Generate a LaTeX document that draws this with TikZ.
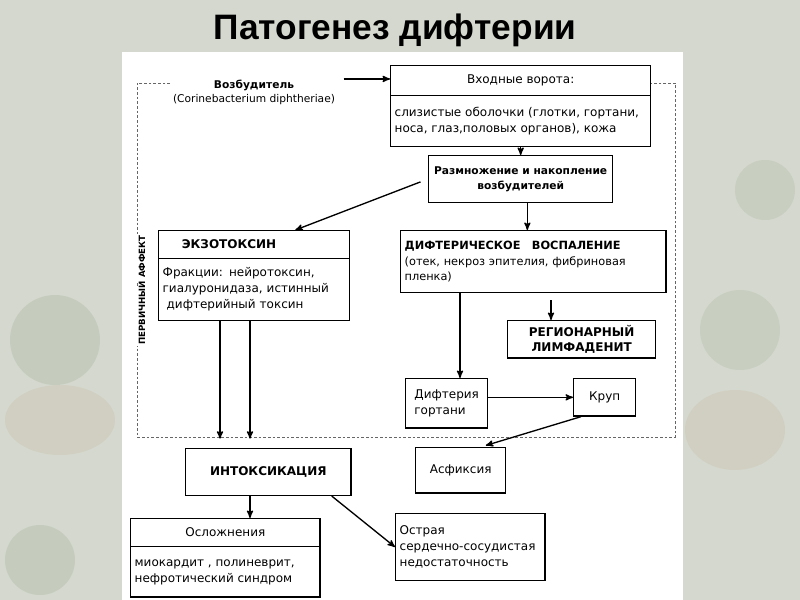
\documentclass[tikz,border=0pt]{standalone}
\usepackage{fontspec}
\setmainfont{DejaVu Sans}
\newfontfamily\titlefont{Liberation Sans}
\usetikzlibrary{arrows,shapes.multipart}

\definecolor{bgpale}{RGB}{212,216,206}
\definecolor{blobgreen}{RGB}{95,125,70}
\definecolor{blobtan}{RGB}{190,150,100}

\begin{document}
\begin{tikzpicture}[x=0.75pt, y=-0.75pt, >=stealth',
	font=\fontsize{9}{12}\selectfont,
	box/.style={draw, line width=1pt, rectangle, anchor=north west, inner sep=3pt},
	splitbox/.style={draw, line width=1pt, rectangle split, rectangle split parts=2,
		rectangle split part align={center, left},
		anchor=north west, inner xsep=3pt, inner ysep=6.5pt},
	frame/.style={gray!80!black, dash pattern=on 2pt off 1.5pt, line width=0.7pt},
	arr/.style={->, line width=1pt}]

	% Background and sheet
	\fill [bgpale] (0,0) rectangle (800,600);
	\fill [blobgreen, opacity=0.12] (55,340) circle (45);
	\fill [blobtan, opacity=0.12] (60,420) ellipse (55 and 35);
	\fill [blobgreen, opacity=0.1] (740,330) circle (40);
	\fill [blobgreen, opacity=0.1] (765,190) circle (30);
	\fill [blobtan, opacity=0.12] (735,430) ellipse (50 and 40);
	\fill [blobgreen, opacity=0.12] (40,560) circle (35);
	\fill [white] (122,52) rectangle (683,600);

	% Title
	\node (title) at (395,30) {\titlefont\bfseries\fontsize{26.5}{30}\selectfont Патогенез дифтерии};

	% Primary affect frame
	\draw [frame] (170,83) -- (137,83) -- (137,437) -- (675,437) -- (675,83) -- (650,83);
	\node [fill=white, rotate=90, inner sep=1pt, font=\bfseries\fontsize{6.5}{7}\selectfont]
		(affekt) at (141,290) {ПЕРВИЧНЫЙ АФФЕКТ};

	% Nodes
	\node [align=center, font=\fontsize{8}{10.5}\selectfont] (vozb) at (254,92)
		{\textbf{Возбудитель}\\(Corinebacterium diphtheriae)};
	\node [splitbox, minimum width=195pt] (vorota) at (390,65)
		{Входные ворота:
		 \nodepart{two}\begin{tabular}{@{}l@{}}слизистые оболочки (глотки, гортани,\\носа, глаз,половых органов), кожа\end{tabular}};
	\node [box, align=center, minimum width=138pt, minimum height=35pt, font=\bfseries\fontsize{8}{11.5}\selectfont]
		(razm) at (428,155) {Размножение и накопление\\возбудителей};
	\node [splitbox, text width=137pt, rectangle split part align={left, left}] (ekzo) at (158,230)
		{\hspace*{1.6em}\textbf{ЭКЗОТОКСИН}
		 \nodepart{two} Фракции: нейротоксин,\\гиалуронидаза, истинный\\ \ дифтерийный токсин};
	\node [box, align=left, text width=193pt, minimum height=46.5pt, font=\fontsize{8.5}{11.5}\selectfont]
		(vosp) at (400,230)
		{\textbf{ДИФТЕРИЧЕСКОЕ\ \ \ ВОСПАЛЕНИЕ}\\(отек, некроз эпителия, фибриновая\\пленка)};
	\node [box, align=center, minimum width=111pt, minimum height=28pt, font=\bfseries\fontsize{9}{11.5}\selectfont]
		(region) at (507,320) {РЕГИОНАРНЫЙ\\ЛИМФАДЕНИТ};
	\node [box, align=left, minimum width=61.5pt, minimum height=37pt] (gortan) at (405,378)
		{Дифтерия\\гортани};
	\node [box, minimum width=46.5pt, minimum height=28pt] (krup) at (573,378) {Круп};
	\node [box, minimum width=67.5pt, minimum height=34pt] (asfik) at (415,447) {Асфиксия};
	\node [box, minimum width=124pt, minimum height=35pt, font=\bfseries\fontsize{9}{12}\selectfont]
		(intox) at (185,448) {ИНТОКСИКАЦИЯ};
	\node [splitbox, minimum width=142pt] (osl) at (130,518)
		{Осложнения
		 \nodepart{two}\begin{tabular}{@{}l@{}}миокардит , полиневрит,\\нефротический синдром\end{tabular}};
	\node [box, align=left, text width=106pt, minimum height=50pt] (ostr) at (395,513)
		{Острая\\сердечно-сосудистая\\недостаточность};

	% Paths
	\draw [arr] ([xshift=3pt, yshift=-3pt]vozb.north east) -- ([yshift=-3pt]vozb.north east -| vorota.west);
	\draw [arr] (vorota.south) -- (vorota.south |- razm.north);
	\draw [arr, shorten <=6pt] (razm.west) -- ([xshift=31pt]ekzo.north);
	\coordinate (vospin) at ([xshift=5pt]razm.south);
	\draw [arr] (vospin) -- (vospin |- vosp.north);
	\coordinate (regin) at ([xshift=-23pt]region.north);
	\draw [arr, shorten <=5pt] (regin |- vosp.south) -- (regin);
	\coordinate (gortin) at ([xshift=10pt]gortan.north);
	\draw [arr] (gortin |- vosp.south) -- (gortin);
	\draw [arr] (gortan.east |- krup.west) -- (krup.west);
	\draw [arr, shorten >=4pt] ([xshift=6pt]krup.south west) -- ([xshift=15pt]asfik.north);
	\coordinate (ekzoa) at ([xshift=-25.5pt]ekzo.south);
	\coordinate (ekzob) at ([xshift=-3pt]ekzo.south);
	\draw [arr, shorten >=7pt] (ekzoa) -- (ekzoa |- intox.north);
	\draw [arr, shorten >=7pt] (ekzob) -- (ekzob |- intox.north);
	\coordinate (oslin) at ([xshift=18.5pt]osl.north);
	\draw [arr] (oslin |- intox.south) -- (oslin);
	\draw [arr] ([xshift=-15pt]intox.south east) -- (ostr.west);

\end{tikzpicture}
\end{document}
